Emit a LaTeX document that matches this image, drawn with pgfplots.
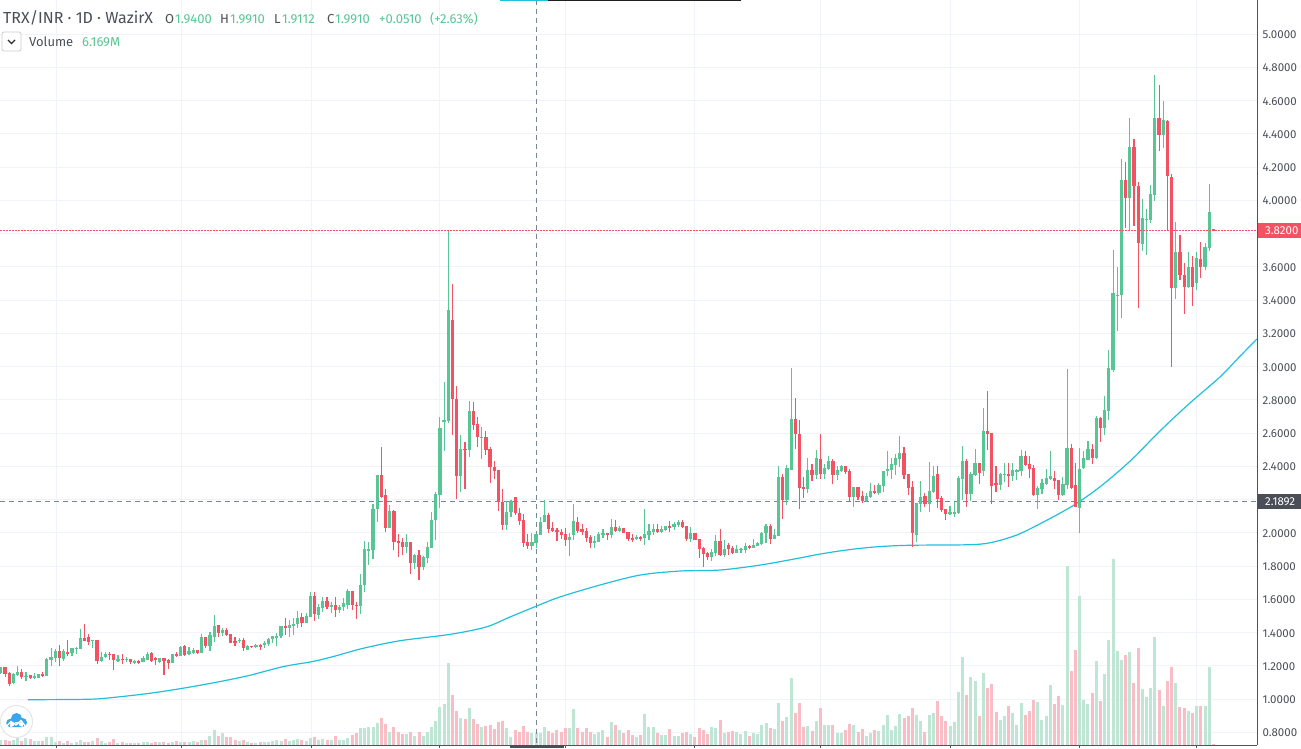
\documentclass[border=0pt]{standalone}
\usepackage{pgfplots}
\usepackage{pgfplotstable}
\usepackage{fontspec}
\setmainfont{Fira Sans}
\pgfplotsset{compat=1.18}
\definecolor{upc}{HTML}{57C694}
\definecolor{dnc}{HTML}{F25262}
\definecolor{upv}{HTML}{BFE6D5}
\definecolor{dnv}{HTML}{F8BDC5}
\definecolor{gridc}{HTML}{F0F3FA}
\definecolor{axc}{HTML}{50535E}
\definecolor{txtc}{HTML}{4A4E57}
\definecolor{mac}{HTML}{1FC0DC}
\definecolor{xhair}{HTML}{758696}
\definecolor{logoc}{HTML}{3AA6EE}
\pgfplotstableread{
i o h l c v
0 1.158 1.190 1.152 1.190 2.3
1 1.190 1.190 1.132 1.150 2.3
2 1.156 1.160 1.080 1.090 2.0
3 1.094 1.156 1.092 1.148 2.5
4 1.142 1.200 1.140 1.162 3.7
5 1.160 1.180 1.120 1.134 2.0
6 1.136 1.160 1.110 1.140 3.5
7 1.142 1.146 1.120 1.124 3.0
8 1.124 1.155 1.120 1.136 2.0
9 1.128 1.150 1.124 1.148 2.0
10 1.150 1.160 1.130 1.140 2.0
11 1.140 1.248 1.140 1.238 4.0
12 1.232 1.308 1.200 1.250 4.0
13 1.246 1.300 1.222 1.292 1.5
14 1.292 1.327 1.200 1.246 2.0
15 1.242 1.300 1.226 1.288 1.0
16 1.286 1.353 1.258 1.274 2.0
17 1.274 1.310 1.258 1.306 1.0
18 1.300 1.312 1.268 1.310 1.5
19 1.302 1.420 1.302 1.370 2.5
20 1.370 1.449 1.348 1.352 1.5
21 1.374 1.389 1.328 1.346 1.5
22 1.352 1.356 1.306 1.355 2.0
23 1.355 1.358 1.208 1.226 3.5
24 1.226 1.286 1.222 1.254 2.0
25 1.250 1.282 1.248 1.270 1.0
26 1.270 1.286 1.232 1.268 1.5
27 1.268 1.270 1.172 1.232 3.0
28 1.234 1.264 1.220 1.238 1.0
29 1.240 1.272 1.208 1.236 1.5
30 1.236 1.252 1.224 1.240 1.0
31 1.238 1.238 1.208 1.220 1.0
32 1.220 1.236 1.212 1.230 1.0
33 1.230 1.232 1.208 1.220 1.0
34 1.222 1.256 1.222 1.246 1.5
35 1.236 1.284 1.232 1.274 1.5
36 1.274 1.286 1.220 1.226 1.0
37 1.244 1.250 1.202 1.240 1.5
38 1.224 1.246 1.216 1.244 1.5
39 1.244 1.246 1.142 1.228 1.5
40 1.232 1.240 1.182 1.214 1.0
41 1.214 1.270 1.214 1.268 1.5
42 1.270 1.282 1.252 1.264 2.0
43 1.260 1.322 1.256 1.316 1.5
44 1.319 1.325 1.258 1.264 1.5
45 1.268 1.315 1.264 1.288 1.5
46 1.280 1.310 1.270 1.298 2.0
47 1.298 1.298 1.268 1.274 1.5
48 1.278 1.390 1.278 1.373 2.3
49 1.373 1.375 1.307 1.319 2.5
50 1.322 1.405 1.288 1.385 4.5
51 1.371 1.505 1.345 1.441 7.5
52 1.445 1.445 1.375 1.395 4.5
53 1.395 1.430 1.380 1.415 6.0
54 1.415 1.430 1.380 1.385 4.0
55 1.390 1.392 1.335 1.340 4.0
56 1.348 1.373 1.322 1.335 2.5
57 1.347 1.370 1.335 1.358 2.0
58 1.358 1.365 1.290 1.310 2.5
59 1.298 1.328 1.295 1.320 1.5
60 1.320 1.322 1.310 1.315 1.0
61 1.315 1.330 1.310 1.328 1.0
62 1.328 1.330 1.295 1.315 1.5
63 1.328 1.350 1.305 1.340 1.5
64 1.330 1.365 1.320 1.363 1.5
65 1.360 1.380 1.340 1.377 2.0
66 1.367 1.400 1.320 1.381 2.5
67 1.381 1.442 1.365 1.440 2.0
68 1.440 1.487 1.385 1.425 3.0
69 1.425 1.475 1.375 1.443 2.0
70 1.440 1.485 1.385 1.451 2.5
71 1.450 1.530 1.425 1.490 3.0
72 1.495 1.520 1.435 1.455 2.5
73 1.460 1.515 1.460 1.500 2.0
74 1.495 1.645 1.495 1.620 3.5
75 1.620 1.645 1.470 1.510 4.0
76 1.505 1.570 1.480 1.552 2.5
77 1.550 1.615 1.525 1.590 3.0
78 1.590 1.612 1.540 1.556 2.5
79 1.556 1.586 1.520 1.566 2.5
80 1.566 1.612 1.495 1.535 4.5
81 1.535 1.566 1.516 1.552 2.5
82 1.556 1.606 1.530 1.576 2.5
83 1.564 1.664 1.544 1.648 3.5
84 1.648 1.650 1.537 1.564 5.0
85 1.565 1.584 1.480 1.562 6.0
86 1.558 1.750 1.510 1.685 8.5
87 1.685 1.948 1.644 1.900 8.5
88 1.896 1.942 1.806 1.900 9.0
89 1.898 2.174 1.844 2.146 9.0
90 2.142 2.350 2.064 2.348 11.0
91 2.348 2.518 2.212 2.214 13.5
92 2.230 2.264 2.004 2.028 10.5
93 2.028 2.170 2.028 2.134 6.5
94 2.134 2.140 1.894 1.944 9.0
95 1.948 1.990 1.854 1.938 6.5
96 1.942 1.970 1.864 1.914 5.7
97 1.914 1.990 1.878 1.942 5.5
98 1.942 1.945 1.750 1.818 6.5
99 1.818 1.870 1.780 1.864 4.5
100 1.864 1.898 1.714 1.794 6.5
101 1.794 1.858 1.774 1.852 4.5
102 1.848 1.942 1.818 1.912 6.5
103 1.908 2.128 1.906 2.080 9.0
104 2.074 2.248 1.954 2.234 12.0
105 2.230 2.698 2.150 2.630 19.0
106 2.664 2.906 2.494 2.678 20.5
107 2.674 3.820 2.658 3.340 41.0
108 3.280 3.496 2.590 2.802 25.0
109 2.806 2.884 2.202 2.344 17.0
110 2.344 2.590 2.244 2.504 13.5
111 2.506 2.548 2.262 2.502 13.0
112 2.500 2.794 2.458 2.734 18.5
113 2.734 2.788 2.620 2.650 13.0
114 2.656 2.698 2.514 2.574 10.5
115 2.574 2.638 2.442 2.578 9.0
116 2.578 2.610 2.470 2.500 9.5
117 2.506 2.518 2.298 2.394 10.0
118 2.398 2.430 2.322 2.374 8.0
119 2.378 2.380 2.134 2.184 11.5
120 2.184 2.264 2.016 2.046 12.0
121 2.046 2.190 2.016 2.126 8.5
122 2.124 2.198 2.094 2.194 4.0
123 2.216 2.218 2.110 2.118 7.5
124 2.120 2.150 2.044 2.070 6.5
125 2.074 2.114 1.914 1.938 9.5
126 1.942 1.990 1.902 1.920 6.5
127 1.920 2.000 1.894 1.942 6.0
128 1.940 1.991 1.9112 1.991 6.169
129 1.984 2.098 1.984 2.066 6.0
130 2.064 2.198 2.064 2.110 9.0
131 2.110 2.120 1.998 2.020 7.0
132 2.026 2.064 2.004 2.008 6.0
133 2.014 2.030 1.950 2.004 7.5
134 2.006 2.022 1.960 1.984 6.5
135 1.990 2.030 1.920 1.954 8.5
136 1.954 1.998 1.860 1.972 8.5
137 1.984 2.176 1.954 2.068 18.0
138 2.062 2.098 1.998 2.008 8.5
139 2.020 2.050 1.984 2.002 6.5
140 2.008 2.026 1.942 1.968 8.5
141 1.972 1.984 1.908 1.938 6.5
142 1.938 1.978 1.906 1.948 5.5
143 1.944 2.002 1.942 1.990 6.5
144 1.984 2.020 1.966 1.996 7.5
145 1.996 1.998 1.954 1.984 4.0
146 1.986 2.080 1.966 2.032 11.5
147 2.032 2.074 2.002 2.008 10.0
148 2.008 2.038 2.002 2.026 7.5
149 2.026 2.028 1.996 1.998 6.0
150 2.002 2.004 1.950 1.962 7.5
151 1.966 1.990 1.942 1.960 5.0
152 1.964 1.984 1.954 1.976 4.0
153 1.976 1.978 1.948 1.966 5.0
154 1.966 2.146 1.924 1.992 15.5
155 1.984 2.052 1.956 2.008 9.0
156 2.004 2.052 1.988 2.022 9.0
157 2.022 2.052 2.000 2.004 6.0
158 2.002 2.042 2.000 2.020 5.0
159 2.016 2.040 2.012 2.038 5.0
160 2.040 2.072 2.006 2.032 8.0
161 2.034 2.064 2.016 2.054 4.5
162 2.046 2.076 2.032 2.064 4.5
163 2.064 2.076 2.028 2.032 6.0
164 2.040 2.042 1.952 1.964 6.5
165 1.960 2.034 1.946 1.998 5.5
166 1.998 2.000 1.954 1.956 4.0
167 1.960 1.962 1.850 1.902 8.5
168 1.908 1.916 1.796 1.872 7.5
169 1.880 1.886 1.836 1.856 5.5
170 1.856 1.900 1.830 1.884 9.0
171 1.880 1.984 1.860 1.950 8.5
172 1.950 2.020 1.860 1.864 12.5
173 1.866 1.956 1.856 1.902 6.0
174 1.926 1.940 1.866 1.902 6.5
175 1.906 1.920 1.872 1.878 7.0
176 1.880 1.926 1.876 1.900 6.5
177 1.898 1.910 1.880 1.904 5.5
178 1.896 1.936 1.876 1.920 7.0
179 1.920 1.924 1.904 1.908 4.5
180 1.908 1.962 1.906 1.926 6.0
181 1.920 1.946 1.918 1.936 5.5
182 1.932 2.006 1.926 2.000 10.0
183 1.996 2.052 1.936 2.040 11.0
184 2.040 2.050 1.932 1.962 8.5
185 1.962 2.020 1.960 1.986 8.0
186 1.982 2.400 1.980 2.336 21.0
187 2.336 2.356 2.082 2.196 12.0
188 2.196 2.406 2.166 2.388 14.0
189 2.376 2.994 2.376 2.686 33.5
190 2.686 2.812 2.502 2.592 16.0
191 2.596 2.676 2.142 2.270 21.0
192 2.274 2.336 2.208 2.262 9.0
193 2.262 2.450 2.240 2.376 9.5
194 2.376 2.412 2.310 2.346 7.0
195 2.346 2.496 2.322 2.448 12.0
196 2.442 2.594 2.322 2.354 18.5
197 2.354 2.412 2.322 2.388 10.0
198 2.382 2.460 2.376 2.430 10.0
199 2.430 2.442 2.292 2.346 10.0
200 2.346 2.400 2.316 2.376 6.0
201 2.370 2.406 2.364 2.400 6.0
202 2.400 2.402 2.352 2.364 7.5
203 2.370 2.382 2.184 2.214 10.5
204 2.214 2.276 2.156 2.274 10.0
205 2.274 2.276 2.196 2.214 6.5
206 2.220 2.250 2.178 2.190 8.0
207 2.190 2.238 2.186 2.220 4.5
208 2.214 2.298 2.212 2.250 6.0
209 2.250 2.286 2.232 2.238 7.5
210 2.238 2.298 2.226 2.286 7.0
211 2.280 2.372 2.244 2.370 10.0
212 2.370 2.490 2.340 2.382 15.0
213 2.376 2.448 2.322 2.412 7.5
214 2.406 2.472 2.346 2.448 9.5
215 2.442 2.580 2.394 2.478 15.5
216 2.478 2.514 2.322 2.346 13.5
217 2.352 2.354 2.226 2.268 14.5
218 2.274 2.310 1.914 1.998 18.5
219 1.986 2.180 1.944 2.178 15.0
220 2.172 2.310 2.124 2.214 12.0
221 2.220 2.238 2.156 2.172 6.5
222 2.172 2.424 2.124 2.250 15.0
223 2.244 2.400 2.242 2.340 16.0
224 2.352 2.400 2.148 2.202 22.0
225 2.208 2.220 2.124 2.136 14.5
226 2.142 2.144 2.076 2.112 12.0
227 2.112 2.160 2.106 2.124 9.5
228 2.120 2.188 2.094 2.124 11.5
229 2.118 2.340 2.116 2.328 26.5
230 2.322 2.520 2.196 2.430 44.0
231 2.430 2.442 2.154 2.232 25.0
232 2.232 2.364 2.190 2.352 34.0
233 2.346 2.502 2.344 2.418 32.0
234 2.418 2.420 2.292 2.358 14.5
235 2.370 2.748 2.340 2.610 36.0
236 2.610 2.850 2.496 2.592 28.5
237 2.598 2.600 2.172 2.280 30.5
238 2.298 2.400 2.244 2.286 16.5
239 2.286 2.358 2.256 2.352 12.5
240 2.350 2.418 2.304 2.354 14.5
241 2.354 2.418 2.274 2.340 19.5
242 2.340 2.418 2.310 2.376 16.0
243 2.372 2.382 2.316 2.376 10.0
244 2.370 2.496 2.340 2.460 21.0
245 2.460 2.490 2.400 2.406 15.0
246 2.412 2.460 2.328 2.382 17.0
247 2.388 2.406 2.224 2.226 22.5
248 2.226 2.280 2.142 2.268 21.5
249 2.262 2.322 2.232 2.298 12.5
250 2.292 2.382 2.290 2.328 14.5
251 2.322 2.490 2.316 2.340 30.0
252 2.328 2.370 2.262 2.310 20.5
253 2.316 2.318 2.196 2.226 24.5
254 2.226 2.334 2.220 2.292 20.0
255 2.286 2.986 2.262 2.508 89.5
256 2.508 2.532 2.262 2.268 37.0
257 2.286 2.418 2.154 2.156 47.5
258 2.148 2.508 1.998 2.382 74.5
259 2.390 2.494 2.386 2.450 22.5
260 2.440 2.554 2.438 2.506 20.5
261 2.506 2.536 2.416 2.450 26.0
262 2.450 2.704 2.444 2.692 42.0
263 2.692 2.694 2.548 2.632 22.0
264 2.632 2.824 2.590 2.740 35.5
265 2.734 3.100 2.680 2.992 52.5
266 2.980 3.702 2.970 3.442 93.0
267 3.426 3.600 3.214 3.430 47.0
268 3.428 4.246 3.290 4.122 42.5
269 4.122 4.228 3.834 4.016 45.0
270 4.016 4.498 3.818 4.318 46.5
271 4.318 4.366 3.846 4.088 31.0
272 4.088 4.108 3.354 3.746 48.5
273 3.740 4.006 3.698 3.892 28.0
274 3.884 3.948 3.668 3.888 24.0
275 3.882 4.090 3.866 4.036 28.5
276 4.034 4.752 3.996 4.498 54.0
277 4.498 4.692 4.298 4.394 27.5
278 4.394 4.596 4.316 4.482 19.5
279 4.476 4.482 3.814 4.148 32.0
280 4.140 4.158 3.000 3.470 39.0
281 3.470 3.870 3.406 3.688 31.0
282 3.688 3.792 3.518 3.548 19.0
283 3.550 3.622 3.318 3.476 18.5
284 3.476 3.688 3.474 3.598 17.0
285 3.598 3.662 3.366 3.476 16.0
286 3.500 3.688 3.458 3.652 19.5
287 3.646 3.750 3.532 3.596 19.5
288 3.596 3.742 3.578 3.720 19.5
289 3.716 4.098 3.696 3.928 39.0
290 3.826 3.828 3.820 3.820 0.5
}\ohlc
\pgfplotstableread{
i ma
6.48 0.996
21.3 0.999
27.8 1.012
35.7 1.035
42.8 1.062
50.7 1.097
58.9 1.139
67.5 1.195
74.4 1.225
79.4 1.255
86.6 1.305
95.5 1.351
107.4 1.389
116 1.433
121.8 1.494
128.2 1.560
133.7 1.614
143.3 1.686
152.9 1.746
162.4 1.770
172 1.776
181.6 1.806
189.7 1.842
195.9 1.872
202.4 1.897
209.5 1.916
217.4 1.925
231.1 1.928
236.6 1.940
243 1.987
249.2 2.063
256.4 2.163
262.9 2.277
270.1 2.432
277.2 2.612
284.4 2.781
291.6 2.938
296.4 3.063
300.4 3.166
}\matable
\pgfplotsset{base/.style={at={(0pt,3pt)},anchor=south west,scale only axis,width=1257pt,height=745pt,
  xmin=-0.215,xmax=300.43,clip=true}}
\begin{document}
\begin{tikzpicture}
\path[use as bounding box] (0,0) rectangle (1301pt,748pt);
\clip (0,0) rectangle (1301pt,748pt);
% grid, scale
\begin{axis}[base,ymin=0.7236,ymax=5.2048,
  axis x line=bottom,axis y line=right,axis line style={-,draw=axc,line width=1pt},
  xtick={13.3,43.1,74.2,105,135,166,196,227,258,286},xticklabels={},
  ytick={0.8,1.0,1.2,1.4,1.6,1.8,2.0,2.4,2.6,2.8,3.0,3.2,3.4,3.6,4.0,4.2,4.4,4.6,4.8,5.0},
  extra y ticks={2.2,3.8},extra y tick labels={},
  grid=major,grid style={gridc,line width=1pt},
  x tick style={draw=axc,line width=1pt},y tick style={draw=none},
  tick align=outside,major tick length=3pt,
  yticklabel style={/pgf/number format/.cd,fixed,fixed zerofill,precision=4,assume math mode=true,
    /tikz/.cd,font=\fontsize{11.5}{13}\selectfont,text=txtc,anchor=west,xshift=-1pt,yshift=-0.7pt},
]
\end{axis}
% volume
\begin{axis}[base,ymin=0,ymax=372.5,hide axis]
\addplot[ycomb,no marks,dnv,line width=3pt] table[x=i,y expr={\thisrow{c}>\thisrow{o} ? nan : \thisrow{v}}]{\ohlc};
\addplot[ycomb,no marks,upv,line width=3pt] table[x=i,y expr={\thisrow{c}>\thisrow{o} ? \thisrow{v} : nan}]{\ohlc};
\end{axis}
% price
\begin{axis}[base,ymin=0.7236,ymax=5.2048,hide axis]
\addplot[xhair,line width=1pt,dash pattern=on 5pt off 4pt] coordinates {(-0.215,2.1892)(300.43,2.1892)};
\addplot[xhair,line width=1pt,dash pattern=on 5pt off 4pt] coordinates {(128.15,5.2048)(128.15,0.7236)};
\addplot[mac,line width=1.2pt,smooth,tension=0.5,no marks] table[x=i,y=ma]{\matable};
% wicks
\addplot[draw=none,no marks,error bars/.cd,y dir=both,y explicit,error mark=none,error bar style={dnc,line width=1.1pt,line cap=butt}]
  table[x=i,y expr={\thisrow{c}>\thisrow{o} ? nan : (\thisrow{h}+\thisrow{l})/2},y error expr={(\thisrow{h}-\thisrow{l})/2}]{\ohlc};
\addplot[draw=none,no marks,error bars/.cd,y dir=both,y explicit,error mark=none,error bar style={upc,line width=1.1pt,line cap=butt}]
  table[x=i,y expr={\thisrow{c}>\thisrow{o} ? (\thisrow{h}+\thisrow{l})/2 : nan},y error expr={(\thisrow{h}-\thisrow{l})/2}]{\ohlc};
% bodies
\addplot[draw=none,no marks,error bars/.cd,y dir=both,y explicit,error mark=none,error bar style={dnc,line width=3.2pt,line cap=butt}]
  table[x=i,y expr={\thisrow{c}>\thisrow{o} ? nan : (\thisrow{o}+\thisrow{c})/2},y error expr={abs(\thisrow{o}-\thisrow{c})/2}]{\ohlc};
\addplot[draw=none,no marks,error bars/.cd,y dir=both,y explicit,error mark=none,error bar style={upc,line width=3.2pt,line cap=butt}]
  table[x=i,y expr={\thisrow{c}>\thisrow{o} ? (\thisrow{o}+\thisrow{c})/2 : nan},y error expr={abs(\thisrow{o}-\thisrow{c})/2}]{\ohlc};
\addplot[dnc,line width=1pt,dash pattern=on 2pt off 1pt] coordinates {(-0.215,3.82)(300.43,3.82)};
\end{axis}
% overlays in pixel coordinates
\begin{scope}[x=1pt,y=-1pt,yshift=748pt]
\fill[mac] (500,0) rectangle (548,1.2);
\fill[black!88] (548,0) rectangle (741,1.2);
\fill[txtc] (510,745) rectangle (564,748);
\fill[dnc] (1257.5,223) rectangle (1301,238);
\node[anchor=base west,inner sep=0,text=white,font=\fontsize{11.5}{13}\selectfont] at (1265,234.5) {3.8200};
\fill[txtc] (1257.5,494) rectangle (1301,509);
\node[anchor=base west,inner sep=0,text=white,font=\fontsize{11.5}{13}\selectfont] at (1265,505.5) {2.1892};
\node[anchor=base west,inner sep=0,text=txtc,font=\fontsize{16}{18}\selectfont] at (3,24) {TRX/INR · 1D · WazirX};
\def\lab#1#2#3{\node[anchor=base west,inner sep=0,text=#3,font=\fontsize{13}{15}\selectfont] at (#1,24) {#2};}
\lab{165}{O}{txtc}\lab{175}{1.9400}{upc}
\lab{220}{H}{txtc}\lab{230}{1.9910}{upc}
\lab{274}{L}{txtc}\lab{282}{1.9112}{upc}
\lab{327}{C}{txtc}\lab{335}{1.9910}{upc}
\lab{379}{+0.0510}{upc}\lab{430}{(+2.63\%)}{upc}
\node[anchor=base west,inner sep=0,text=txtc,font=\fontsize{13}{15}\selectfont] at (29,46.5) {Volume};
\node[anchor=base west,inner sep=0,text=upc,font=\fontsize{13}{15}\selectfont] at (82,46.5) {6.169M};
\draw[black!20,fill=white,rounded corners=2pt,line width=.8pt] (2,32) rectangle (21,51);
\draw[txtc!60!black,line width=1.2pt] (8,40) -- (11.5,43.5) -- (15,40);
\fill[white] (16.5,721.5) circle (16);
\draw[black!10,line width=1pt] (16.5,721.5) circle (16);
\fill[logoc] (10.5,723) circle (4.3) (16.5,718.5) circle (5.5) (22.5,722.5) circle (4.5) (10,722) rectangle (23,727);
\draw[white,line width=1.3pt] (6,727) -- (11,721.5) -- (16,725) -- (21,720.5) -- (26,727);
\end{scope}
\end{tikzpicture}
\end{document}
